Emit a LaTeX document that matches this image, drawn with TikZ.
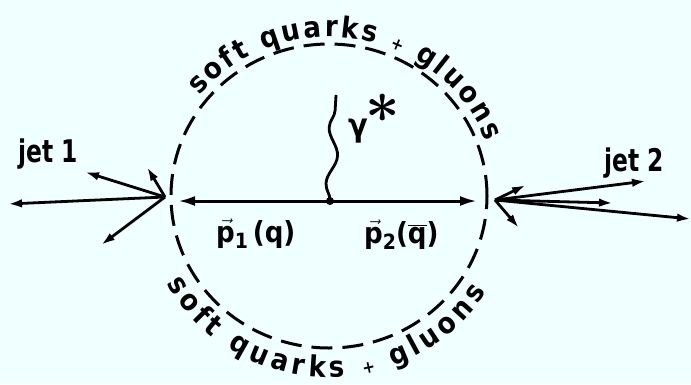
\documentclass[tikz,border=0pt]{standalone}
\usepackage{fontspec}
\setmainfont{DejaVu Sans Condensed}
\usepackage{graphicx}
\usetikzlibrary{arrows.meta,decorations.text,decorations.pathmorphing}
\definecolor{bg}{HTML}{F0FFFF}
\newcommand\arcfont{\fontsize{29}{32}\selectfont\bfseries}
\newcommand\plusfont{\fontsize{17}{18}\selectfont\bfseries}
\begin{document}
\begin{tikzpicture}[x=1pt,y=1pt,
  circ/.style={line width=3pt, dash pattern=on 21pt off 10pt},
  mainarrow/.style={line width=3pt, -{Latex[length=17pt,width=10pt]}},
  jetarrow/.style={line width=2.8pt, -{Latex[length=14pt,width=8.5pt]}},
  lbl/.style={font=\fontsize{26}{30}\selectfont\bfseries, inner sep=0pt},
  plbl/.style={font=\fontsize{29}{32}\selectfont\bfseries, inner sep=0pt},
  photon/.style={line width=2.8pt, decorate, decoration={snake, segment length=56pt, amplitude=5pt}},
]
\fill[bg] (0,0) rectangle (691,-384);
\useasboundingbox (0,0) rectangle (691,-384);
\coordinate (c) at (329,-196);
% dashed ring
\draw[circ] (c) ellipse [x radius=158pt, y radius=152pt];
% arc texts
\path[shift={(c)}, decorate, decoration={text along path,
    text={|\arcfont|soft quarks |\plusfont|+|\arcfont| gluons},
    text align={fit to path}}]
  (141:167pt and 159pt) arc[start angle=141, end angle=20, x radius=167pt, y radius=159pt];
\path[shift={(c)}, decorate, decoration={text along path,
    text={|\arcfont|soft quarks |\plusfont|+|\arcfont| gluons},
    text align={fit to path}}]
  (209:186pt and 181pt) arc[start angle=209, end angle=328, x radius=186pt, y radius=181pt];
% vertex and hard partons
\node[circle, fill, inner sep=0pt, minimum size=8pt] (v) at (330,-201) {};
\coordinate (Ltip) at (178,-201);
\coordinate (Rtip) at (477,-201);
\draw[mainarrow] (v.center) -- (Ltip);
\draw[mainarrow] (v.center) -- (Rtip);
% photon
\coordinate (ph) at (336,-95);
\draw[photon] (v.center) -- (ph);
\node[font=\fontsize{32}{36}\selectfont\bfseries, inner sep=0pt, anchor=base] (gam) at (358,-136) {γ};
\node[inner sep=0pt] (star) at (383,-108) {\scalebox{6}{\boldmath$\ast$}};
% jet 1
\coordinate (o1) at (165,-197);
\coordinate (a1) at (8,-204);
\coordinate (b1) at (85,-172);
\coordinate (c1) at (147,-167);
\coordinate (d1) at (101,-245);
\foreach \t in {a1,b1,c1,d1} \draw[jetarrow] (o1) -- (\t);
% jet 2
\coordinate (o2) at (495,-200);
\coordinate (a2) at (646,-181);
\coordinate (b2) at (613,-203);
\coordinate (c2) at (691,-219);
\coordinate (d2) at (526,-185);
\coordinate (e2) at (519,-228);
\foreach \t in {a2,b2,c2,d2,e2} \draw[jetarrow] (o2) -- (\t);
% labels
\node[lbl, anchor=base] (jet1) at (48,-162) {\scalebox{1}[1.2]{jet 1}};
\node[lbl, anchor=base] (jet2) at (634,-171) {\scalebox{1}[1.2]{jet 2}};
\node[plbl, anchor=base west] (p1) at (216,-242)
  {\ensuremath{\vec{\mbox{p}}}\raisebox{-0.22em}{\fontsize{21}{22}\selectfont\bfseries 1}\,(q)};
\node[plbl, anchor=base west] (p2) at (364,-243)
  {\ensuremath{\vec{\mbox{p}}}\raisebox{-0.22em}{\fontsize{21}{22}\selectfont\bfseries 2}(\ensuremath{\overline{\mbox{q}}})};
\end{tikzpicture}
\end{document}
